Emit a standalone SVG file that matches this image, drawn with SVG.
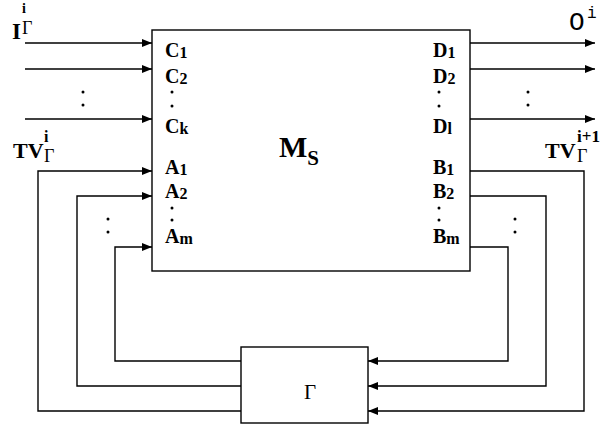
<svg xmlns="http://www.w3.org/2000/svg" width="604" height="425" viewBox="0 0 604 425">
  <style>
    .box { fill: #fff; stroke: #000; stroke-width: 1.4; }
    .wire { fill: none; stroke: #000; stroke-width: 1.4; }
    .bold { font-family: "Liberation Serif", "Times New Roman", serif; font-weight: bold; fill: #000; }
    .port { font-size: 20px; }
    .sub { font-size: 16px; }
    .greek { font-family: "Liberation Serif", "Times New Roman", serif; font-weight: normal; fill: #000; }
    .mono { font-family: "Liberation Mono", "Courier New", monospace; fill: #000; }
    .dot { fill: #000; }
  </style>
  <defs>
    <marker id="arrow" viewBox="0 0 10 8" refX="10" refY="4" markerWidth="10" markerHeight="8" markerUnits="userSpaceOnUse" orient="auto">
      <path d="M0,0 L10,4 L0,8 Z" fill="#000"/>
    </marker>
  </defs>

  <rect width="604" height="425" fill="#fff"/>

  <!-- connectors -->
  <g id="connectors">
    <!-- external inputs C1..Ck -->
    <line class="wire" x1="25" y1="43" x2="152" y2="43" marker-end="url(#arrow)"/>
    <line class="wire" x1="25" y1="69" x2="152" y2="69" marker-end="url(#arrow)"/>
    <line class="wire" x1="25" y1="119" x2="152" y2="119" marker-end="url(#arrow)"/>
    <!-- external outputs D1..Dl -->
    <line class="wire" x1="470" y1="43" x2="595" y2="43" marker-end="url(#arrow)"/>
    <line class="wire" x1="470" y1="69" x2="595" y2="69" marker-end="url(#arrow)"/>
    <line class="wire" x1="470" y1="119" x2="595" y2="119" marker-end="url(#arrow)"/>
    <!-- feedback from Gamma into A ports -->
    <polyline class="wire" points="241,411 38,411 38,171 152,171" marker-end="url(#arrow)"/>
    <polyline class="wire" points="241,386 77,386 77,196 152,196" marker-end="url(#arrow)"/>
    <polyline class="wire" points="241,361 115,361 115,247 152,247" marker-end="url(#arrow)"/>
    <!-- B ports into Gamma -->
    <polyline class="wire" points="470,171 584,171 584,411 368,411" marker-end="url(#arrow)"/>
    <polyline class="wire" points="470,196 546,196 546,386 368,386" marker-end="url(#arrow)"/>
    <polyline class="wire" points="470,247 508,247 508,361 368,361" marker-end="url(#arrow)"/>
    <!-- ellipsis dots between wires -->
    <circle class="dot" cx="83" cy="92" r="1.5"/>
    <circle class="dot" cx="83" cy="105" r="1.5"/>
    <circle class="dot" cx="528" cy="92" r="1.5"/>
    <circle class="dot" cx="528" cy="105" r="1.5"/>
    <circle class="dot" cx="108" cy="219" r="1.5"/>
    <circle class="dot" cx="108" cy="232" r="1.5"/>
    <circle class="dot" cx="515" cy="219" r="1.5"/>
    <circle class="dot" cx="515" cy="232" r="1.5"/>
  </g>

  <!-- main machine -->
  <g id="node-ms">
    <rect class="box" x="152" y="30" width="318" height="241"/>
    <text class="bold" x="279" y="157" style="font-size:30px">M<tspan style="font-size:21px" dy="8">S</tspan></text>
    <text class="bold port" x="165" y="57">C<tspan class="sub" dy="1">1</tspan></text>
    <text class="bold port" x="165" y="83">C<tspan class="sub" dy="1">2</tspan></text>
    <text class="bold port" x="165" y="133">C<tspan class="sub" dy="1">k</tspan></text>
    <circle class="dot" cx="172" cy="92" r="1.5"/>
    <circle class="dot" cx="172" cy="106" r="1.5"/>
    <text class="bold port" x="165" y="174">A<tspan class="sub" dy="1">1</tspan></text>
    <text class="bold port" x="165" y="198">A<tspan class="sub" dy="1">2</tspan></text>
    <text class="bold port" x="165" y="243">A<tspan class="sub" dy="1">m</tspan></text>
    <circle class="dot" cx="172" cy="208" r="1.5"/>
    <circle class="dot" cx="172" cy="220" r="1.5"/>
    <text class="bold port" x="433" y="57">D<tspan class="sub" dy="1">1</tspan></text>
    <text class="bold port" x="433" y="83">D<tspan class="sub" dy="1">2</tspan></text>
    <text class="bold port" x="433" y="133">D<tspan class="sub" dy="1">l</tspan></text>
    <circle class="dot" cx="439" cy="92" r="1.5"/>
    <circle class="dot" cx="439" cy="106" r="1.5"/>
    <text class="bold port" x="433" y="174">B<tspan class="sub" dy="1">1</tspan></text>
    <text class="bold port" x="433" y="198">B<tspan class="sub" dy="1">2</tspan></text>
    <text class="bold port" x="433" y="243">B<tspan class="sub" dy="1">m</tspan></text>
    <circle class="dot" cx="439" cy="208" r="1.5"/>
    <circle class="dot" cx="439" cy="220" r="1.5"/>
  </g>

  <!-- transition function block -->
  <g id="node-gamma">
    <rect class="box" x="241" y="347" width="127" height="76"/>
    <text class="greek" x="310" y="399" style="font-size:21px" text-anchor="middle">Γ</text>
  </g>

  <!-- signal names: base letter with stacked superscript / subscript -->
  <g id="label-input">
    <text class="bold" x="12" y="39" style="font-size:23px">I<tspan x="22" y="13" style="font-size:14px">i</tspan><tspan class="greek" x="22" y="34" style="font-size:18px">Γ</tspan></text>
  </g>
  <g id="label-output">
    <text class="mono" x="569" y="30" style="font-size:26px">O<tspan x="587" y="18" style="font-size:16px">i</tspan></text>
  </g>
  <g id="label-tv-in">
    <text class="bold" x="13" y="158" style="font-size:22px">TV<tspan x="44" y="142" style="font-size:16px">i</tspan><tspan class="greek" x="44" y="162" style="font-size:18px">Γ</tspan></text>
  </g>
  <g id="label-tv-out">
    <text class="bold" x="545" y="158" style="font-size:22px">TV<tspan x="577" y="142" style="font-size:17px">i+1</tspan><tspan class="greek" x="577" y="162" style="font-size:18px">Γ</tspan></text>
  </g>
</svg>
